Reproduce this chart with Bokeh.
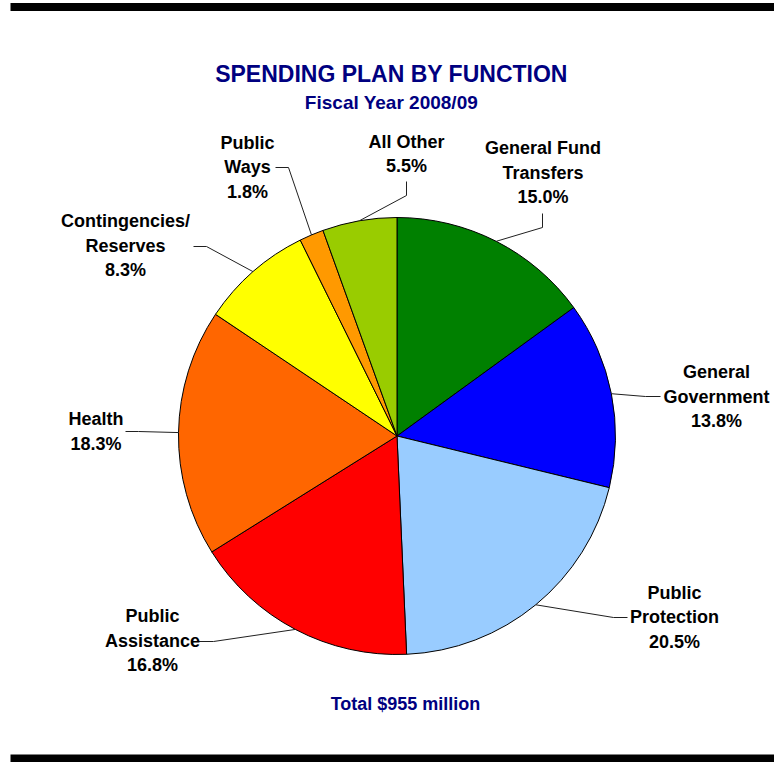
import numpy as np
from bokeh.plotting import figure
from bokeh.models import Range1d, ColumnDataSource
from bokeh.embed import file_html
from bokeh.resources import INLINE
from bokeh.core.properties import value

# ---------------- data ----------------
categories = ["General Fund Transfers", "General Government", "Public Protection",
              "Public Assistance", "Health", "Contingencies/Reserves", "Public Ways", "All Other"]
label_lines = [["General Fund", "Transfers"], ["General", "Government"], ["Public", "Protection"],
               ["Public", "Assistance"], ["Health"], ["Contingencies/", "Reserves"],
               ["Public", "Ways"], ["All Other"]]
shares = [15.0, 13.8, 20.5, 16.8, 18.3, 8.3, 1.8, 5.5]
colors = ["#008000", "#0000FF", "#99CCFF", "#FF0000", "#FF6600", "#FFFF00", "#FF9900", "#99CC00"]
title_text = "SPENDING PLAN BY FUNCTION"
subtitle_text = "Fiscal Year 2008/09"
total_text = "Total $955 million"

# ---------------- layout (picture pixels) ----------------
W, H = 774, 762
def Y(sy):  # picture y -> data y
    return H - sy

CX, CY, R = 396.5, Y(435.5), 218.5
# label anchor: (center x, cap-centre y of first line)
label_pos = [(542.5, 147.5), (716, 371.5), (674, 592), (152, 615.5),
             (95.5, 418.5), (125, 220.5), (247, 142), (406, 141)]
LINE_GAP = 24.6
# leader elbow and end points
leader_pts = [[(542, 227), (542, 213)], [(645, 396), (660, 396)], [(613, 617), (627, 617)],
              [(213, 641), (198, 641)], [(138, 431), (125, 431)], [(206, 246), (193, 246)],
              [(288, 167), (275, 167)], [(406, 195), (406, 181)]]

p = figure(width=W, height=H, output_backend="svg", toolbar_location=None,
           x_range=Range1d(0, W), y_range=Range1d(0, H),
           min_border=0, background_fill_color="white", border_fill_color="white")
p.axis.visible = False
p.xgrid.visible = False
p.ygrid.visible = False
p.outline_line_color = None

# black bars
p.quad(left=[10, 10], right=[W, W], bottom=[Y(10.5), Y(H)], top=[Y(2.5), Y(754)],
       fill_color="black", line_color=None)

# pie
vals = np.array(shares)
cum = np.concatenate([[0], np.cumsum(vals)]) / vals.sum()
starts = np.pi / 2 - 2 * np.pi * cum[:-1]
ends = np.pi / 2 - 2 * np.pi * cum[1:]
src = ColumnDataSource(dict(start=starts, end=ends, color=colors, cat=categories))
p.wedge(x=CX, y=CY, radius=R, start_angle="start", end_angle="end", direction="clock",
        fill_color="color", line_color="black", line_width=1, source=src)

# leaders
mids = np.pi / 2 - 2 * np.pi * (cum[:-1] + cum[1:]) / 2
xs, ys = [], []
for m, pts in zip(mids, leader_pts):
    ex, ey = CX + R * np.cos(m), CY + R * np.sin(m)
    xs.append([ex] + [q[0] for q in pts])
    ys.append([ey] + [Y(q[1]) for q in pts])
p.multi_line(xs=xs, ys=ys, line_color="#202020", line_width=1)

# labels (y given is the rendered cap centre)
FS = 18
tx, ty, tt = [], [], []
for lines, share, (lx, ly) in zip(label_lines, shares, label_pos):
    for i, t in enumerate(lines + [f"{share:.1f}%"]):
        tx.append(lx)
        ty.append(Y(ly + i * LINE_GAP))
        tt.append(t)
p.text(x=tx, y=ty, text=tt, text_font=value("Liberation Sans"), text_font_style="bold",
       text_font_size=f"{FS}px", text_align="center", text_baseline="alphabetic",
       text_color="black")

# titles
def put(txt, x, capc, fs, color="#000080"):
    p.text(x=[x], y=[Y(capc)], text=[txt], text_font=value("Liberation Sans"),
           text_font_style="bold", text_font_size=f"{fs}px", text_align="center",
           text_baseline="alphabetic", text_color=color)

put(title_text, 391, 73.3, 23)
put(subtitle_text, 391, 102, 19)
put(total_text, 405, 703, 18)

open("out.html", "w").write(file_html(p, INLINE))
